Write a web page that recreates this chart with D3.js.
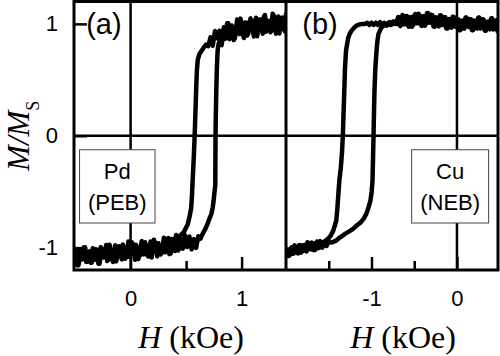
<!DOCTYPE html>
<html>
<head>
<meta charset="utf-8">
<script src="https://cdn.jsdelivr.net/npm/d3@7"></script>
<style>
  body { margin: 0; background: #fff; }
  svg { display: block; }
</style>
</head>
<body>
<div id="chart"></div>
<script>
// Hysteresis loops, M/Ms vs H (kOe). (a) Pd, positive exchange bias; (b) Cu, negative exchange bias

// panel (a) - descending branch (from +saturation)
const aDown = [
  [1.40, 1.085], [1.38, 0.95], [1.36, 1.055], [1.34, 0.915], [1.32, 1.035], [1.30, 0.955], [1.28, 1.09], [1.26, 0.925],
  [1.24, 1.01], [1.22, 0.93], [1.20, 1.065], [1.18, 0.955], [1.16, 1.04], [1.14, 0.89], [1.12, 1.023], [1.10, 0.961],
  [1.08, 1.049], [1.06, 0.912], [1.04, 1.013], [1.02, 0.874], [1.00, 0.99], [0.98, 0.91], [0.96, 1.04], [0.94, 0.871],
  [0.92, 0.957], [0.90, 0.88], [0.88, 1.005], [0.86, 0.89], [0.84, 0.97], [0.82, 0.81], [0.80, 0.938], [0.78, 0.87],
  [0.76, 0.935], [0.74, 0.805], [0.72, 0.88], [0.70, 0.80], [0.68, 0.815], [0.66, 0.79], [0.64, 0.76], [0.62, 0.73],
  [0.605, 0.68], [0.597, 0.58], [0.592, 0.45], [0.587, 0.30], [0.582, 0.15], [0.577, 0.0], [0.571, -0.15], [0.565, -0.28],
  [0.559, -0.40], [0.552, -0.55], [0.545, -0.65], [0.532, -0.72], [0.515, -0.79], [0.50, -0.82], [0.48, -0.86], [0.46, -0.88],
  [0.44, -0.90], [0.42, -0.91], [0.40, -1.03], [0.38, -0.944], [0.36, -1.053], [0.34, -0.915], [0.32, -1.024], [0.30, -0.912],
  [0.28, -1.047], [0.26, -0.987], [0.24, -1.078], [0.22, -0.953], [0.20, -1.036], [0.18, -0.945], [0.16, -1.08], [0.14, -0.976],
  [0.12, -1.059], [0.10, -0.942], [0.08, -1.077], [0.06, -0.999], [0.04, -1.108], [0.02, -0.965], [0.00, -1.056], [-0.02, -0.945],
  [-0.04, -1.087], [-0.06, -0.996], [-0.08, -1.105], [-0.10, -0.988], [-0.12, -1.084], [-0.14, -0.98], [-0.16, -1.128], [-0.18, -1.024],
  [-0.20, -1.107], [-0.22, -0.977], [-0.24, -1.086], [-0.26, -1.008], [-0.28, -1.143], [-0.30, -1.026], [-0.32, -1.109], [-0.34, -1.005],
  [-0.36, -1.135], [-0.38, -1.049], [-0.40, -1.127], [-0.42, -0.997], [-0.44, -1.106], [-0.46, -1.028], [-0.48, -1.158], [-0.50, -1.041],
  [-0.52, -1.119]
];

// panel (a) - ascending branch (from -saturation)
const aUp = [
  [-0.51, -1.119], [-0.49, -1.015], [-0.47, -1.158], [-0.45, -1.054], [-0.43, -1.09], [-0.41, -0.997], [-0.39, -1.127], [-0.37, -1.033],
  [-0.35, -1.135], [-0.33, -1.057], [-0.31, -1.015], [-0.29, -1.143], [-0.27, -0.997], [-0.25, -1.086], [-0.23, -1.018], [-0.21, -1.12],
  [-0.19, -0.974], [-0.17, -1.089], [-0.15, -1.021], [-0.13, -1.123], [-0.11, -0.99], [-0.09, -1.053], [-0.07, -0.972], [-0.05, -1.10],
  [-0.03, -0.996], [-0.01, -1.084], [0.01, -0.952], [0.03, -1.056], [0.05, -0.975], [0.07, -1.103], [0.09, -0.996], [0.11, -1.059],
  [0.13, -0.952], [0.15, -1.067], [0.17, -0.999], [0.19, -1.088], [0.21, -0.929], [0.23, -1.042], [0.25, -0.961], [0.27, -1.062],
  [0.29, -0.967], [0.31, -1.042], [0.33, -0.92], [0.35, -1.058], [0.37, -0.923], [0.39, -0.996], [0.41, -0.887], [0.43, -1.025],
  [0.45, -0.921], [0.47, -1.01], [0.49, -0.89], [0.51, -0.994], [0.53, -0.901], [0.55, -1.015], [0.57, -0.924], [0.59, -1.002],
  [0.61, -0.898], [0.63, -0.92], [0.65, -0.875], [0.67, -0.84], [0.694, -0.786], [0.71, -0.74], [0.727, -0.70], [0.74, -0.64],
  [0.748, -0.58], [0.756, -0.50], [0.763, -0.44], [0.764, -0.2], [0.765, 0.0], [0.768, 0.2], [0.772, 0.40], [0.777, 0.60],
  [0.782, 0.72], [0.786, 0.78], [0.795, 0.83], [0.81, 0.86], [0.83, 0.88], [0.85, 0.865], [0.87, 1.005], [0.89, 0.862],
  [0.91, 0.985], [0.93, 0.855], [0.95, 0.978], [0.97, 0.922], [0.99, 1.047], [1.01, 0.902], [1.03, 1.011], [1.05, 0.895],
  [1.07, 0.988], [1.09, 1.035], [1.11, 0.887], [1.13, 1.054], [1.15, 0.95], [1.17, 1.028], [1.19, 0.912], [1.21, 1.08],
  [1.23, 0.948], [1.25, 1.027], [1.27, 0.94], [1.29, 1.075], [1.31, 0.912], [1.33, 1.065], [1.35, 0.977], [1.37, 1.055],
  [1.39, 0.935], [1.41, 1.04]
];

// panel (b) - descending branch
const bDown = [
  [0.50, 1.032], [0.475, 0.934], [0.45, 1.018], [0.425, 0.95], [0.40, 1.049], [0.375, 0.966], [0.35, 1.009], [0.325, 0.94],
  [0.30, 1.04], [0.275, 0.958], [0.25, 1.056], [0.225, 0.972], [0.20, 1.028], [0.175, 0.944], [0.15, 1.042], [0.125, 0.986],
  [0.10, 1.056], [0.075, 0.958], [0.05, 1.028], [0.025, 0.944], [0.0, 1.045], [-0.025, 0.978], [-0.05, 1.065], [-0.075, 0.97],
  [-0.10, 1.043], [-0.125, 0.961], [-0.15, 1.06], [-0.175, 0.991], [-0.20, 1.076], [-0.225, 0.983], [-0.25, 1.058], [-0.275, 0.979],
  [-0.30, 1.082], [-0.325, 1.012], [-0.35, 1.096], [-0.375, 0.984], [-0.40, 1.066], [-0.425, 0.994], [-0.45, 1.091], [-0.475, 1.005],
  [-0.50, 1.074], [-0.525, 0.975], [-0.55, 1.058], [-0.575, 0.986], [-0.60, 1.068], [-0.625, 0.996], [-0.65, 1.05], [-0.675, 0.992],
  [-0.70, 1.03], [-0.725, 1.0], [-0.75, 1.02], [-0.775, 0.99], [-0.80, 1.01], [-0.825, 0.985], [-0.85, 1.01], [-0.875, 0.99],
  [-0.90, 1.015], [-0.925, 0.99], [-0.95, 1.01], [-0.975, 0.99], [-1.0, 1.01], [-1.025, 0.99], [-1.05, 1.01], [-1.075, 1.0],
  [-1.106, 1.0], [-1.14, 0.995], [-1.18, 0.982], [-1.21, 0.96], [-1.235, 0.9375], [-1.255, 0.91], [-1.271, 0.878], [-1.285, 0.82],
  [-1.298, 0.759], [-1.31, 0.60], [-1.318, 0.40], [-1.327, 0.20], [-1.335, 0.0], [-1.345, -0.15], [-1.358, -0.28], [-1.376, -0.40],
  [-1.39, -0.55], [-1.40, -0.66], [-1.412, -0.76], [-1.447, -0.848], [-1.475, -0.89], [-1.506, -0.92], [-1.55, -0.945], [-1.588, -0.964],
  [-1.61, -1.0], [-1.635, -0.945], [-1.66, -1.02], [-1.685, -0.963], [-1.71, -1.016], [-1.735, -0.96], [-1.76, -1.034], [-1.785, -0.978],
  [-1.81, -1.032], [-1.835, -0.977], [-1.86, -1.052], [-1.885, -0.997], [-1.91, -1.052], [-1.935, -0.997], [-1.96, -1.072], [-1.985, -1.017],
  [-2.01, -1.07]
];

// panel (b) - ascending branch
const bUp = [
  [-2.0, -1.01], [-1.975, -1.075], [-1.95, -1.01], [-1.925, -1.055], [-1.90, -0.98], [-1.875, -1.035], [-1.85, -0.98], [-1.825, -1.045],
  [-1.80, -0.98], [-1.775, -1.026], [-1.75, -0.952], [-1.725, -1.008], [-1.70, -0.955], [-1.675, -1.022], [-1.65, -0.958], [-1.625, -1.005],
  [-1.60, -0.942], [-1.575, -1.0], [-1.55, -0.948], [-1.525, -0.985], [-1.50, -0.94], [-1.475, -0.955], [-1.45, -0.95], [-1.42, -0.94],
  [-1.388, -0.92], [-1.35, -0.90], [-1.306, -0.875], [-1.26, -0.855], [-1.212, -0.83], [-1.17, -0.80], [-1.129, -0.777], [-1.09, -0.74],
  [-1.059, -0.696], [-1.035, -0.64], [-1.012, -0.58], [-0.998, -0.50], [-0.988, -0.40], [-0.982, -0.2], [-0.976, 0.0], [-0.971, 0.2],
  [-0.965, 0.40], [-0.955, 0.60], [-0.941, 0.759], [-0.93, 0.85], [-0.918, 0.91], [-0.886, 0.964], [-0.85, 0.99], [-0.824, 1.0],
  [-0.812, 0.99], [-0.787, 1.015], [-0.762, 0.995], [-0.737, 1.02], [-0.712, 1.0], [-0.687, 1.062], [-0.662, 0.98], [-0.637, 1.08],
  [-0.612, 0.998], [-0.587, 1.07], [-0.562, 0.974], [-0.537, 1.059], [-0.512, 0.99], [-0.487, 1.089], [-0.462, 1.007], [-0.437, 1.078],
  [-0.412, 0.982], [-0.387, 1.068], [-0.362, 0.998], [-0.337, 1.096], [-0.312, 1.012], [-0.287, 1.077], [-0.262, 0.974], [-0.237, 1.053],
  [-0.212, 0.978], [-0.187, 1.075], [-0.162, 0.99], [-0.137, 1.059], [-0.112, 0.959], [-0.087, 1.04], [-0.062, 0.967], [-0.037, 1.062],
  [-0.012, 0.975], [0.012, 1.042], [0.037, 0.944], [0.062, 1.028], [0.087, 0.958], [0.112, 1.056], [0.137, 0.972], [0.162, 1.042],
  [0.187, 0.944], [0.212, 1.028], [0.237, 0.958], [0.262, 1.056], [0.287, 0.97], [0.312, 1.038], [0.337, 0.939], [0.362, 1.022],
  [0.387, 0.951], [0.412, 1.048], [0.437, 0.962], [0.462, 1.032], [0.487, 0.934], [0.51, 1.0]
];

const mTicks = [-1, 0, 1];
const aMajor = [0, 1], aMinor = [0.5];
const bMajor = [-1, 0], bMinor = [-1.5, -0.5];
const aDomain = [-0.51, 1.40];
const bDomain = [-2.0, 0.48];

const width = 500, height = 356;
const sans = '"Liberation Sans", Arial, sans-serif';
const serif = '"Liberation Serif", "Times New Roman", serif';

const svg = d3.select('#chart').append('svg')
  .attr('width', width)
  .attr('height', height);

const y = d3.scaleLinear().domain([-1.2, 1.2]).range([270, 1.5]);

const panels = [
  { id: 'a', tag: '(a)', x: d3.scaleLinear().domain(aDomain).range([74, 286]), major: aMajor, minor: aMinor,
    loops: [aDown, aUp], box: ['Pd', '(PEB)'], boxH: [-0.46, 0.22], tagH: -0.40 },
  { id: 'b', tag: '(b)', x: d3.scaleLinear().domain(bDomain).range([286, 498]), major: bMajor, minor: bMinor,
    loops: [bDown, bUp], box: ['Cu', '(NEB)'], boxH: [-0.53, 0.37], tagH: -1.81 }
];

const line = d3.line();

panels.forEach(p => {
  const x = p.x;
  const [x0, x1] = x.range();
  const clipId = 'clip-' + p.id;
  svg.append('clipPath').attr('id', clipId)
    .append('rect').attr('x', x0).attr('y', y(1.2)).attr('width', x1 - x0).attr('height', y(-1.2) - y(1.2));

  // zero lines
  svg.append('line')
    .attr('x1', x(0)).attr('x2', x(0)).attr('y1', y(1.2)).attr('y2', y(-1.2))
    .attr('stroke', '#000').attr('stroke-width', 2.5);
  svg.append('line')
    .attr('x1', x0).attr('x2', x1).attr('y1', y(0)).attr('y2', y(0))
    .attr('stroke', '#000').attr('stroke-width', 2.5);

  // bottom ticks (inward)
  const gx = svg.append('g')
    .attr('transform', `translate(0,${y(-1.2)})`)
    .call(d3.axisBottom(x).tickValues(p.major).tickSize(-13).tickPadding(20).tickFormat(d3.format('d')));
  gx.select('.domain').remove();
  gx.selectAll('line').attr('stroke-width', 2.5);
  gx.selectAll('text').attr('font-family', sans).attr('font-size', 22).attr('fill', '#000')
    .text(d => d < 0 ? '-' + Math.abs(d) : d);
  const gm = svg.append('g')
    .attr('transform', `translate(0,${y(-1.2)})`)
    .call(d3.axisBottom(x).tickValues(p.minor).tickSize(-9).tickFormat(''));
  gm.select('.domain').remove();
  gm.selectAll('line').attr('stroke-width', 2.5);

  // data
  const gd = svg.append('g').attr('clip-path', `url(#${clipId})`);
  p.loops.forEach(branch => {
    gd.append('path')
      .attr('d', line(branch.map(d => [x(d[0]), y(d[1])])))
      .attr('fill', 'none')
      .attr('stroke', '#000')
      .attr('stroke-width', 4.5)
      .attr('stroke-linejoin', 'round')
      .attr('stroke-linecap', 'round');
  });

  // sample box
  const bx0 = x(p.boxH[0]), bx1 = x(p.boxH[1]);
  svg.append('rect')
    .attr('x', bx0).attr('y', y(-0.125)).attr('width', bx1 - bx0).attr('height', y(-0.78) - y(-0.125))
    .attr('fill', '#fff').attr('stroke', '#444').attr('stroke-width', 1);
  svg.append('text').attr('x', (bx0 + bx1) / 2).attr('y', y(-0.39))
    .attr('text-anchor', 'middle').attr('font-family', sans).attr('font-size', 22).text(p.box[0]);
  svg.append('text').attr('x', (bx0 + bx1) / 2).attr('y', y(-0.66))
    .attr('text-anchor', 'middle').attr('font-family', sans).attr('font-size', 22).text(p.box[1]);

  // panel tag
  svg.append('text').attr('x', x(p.tagH)).attr('y', y(1)).attr('dy', '0.36em')
    .attr('font-family', sans).attr('font-size', 29).text(p.tag);

  // x label
  const xl = svg.append('text')
    .attr('x', (x0 + x1) / 2 + 11).attr('y', 348)
    .attr('text-anchor', 'middle').attr('font-family', serif).attr('font-size', 32);
  xl.append('tspan').attr('font-style', 'italic').text('H');
  xl.append('tspan').text(' (kOe)');
});

// left axis ticks
const gy = svg.append('g')
  .attr('transform', 'translate(74,0)')
  .call(d3.axisLeft(y).tickValues(mTicks).tickSize(-13).tickPadding(16).tickFormat(d3.format('d')));
gy.select('.domain').remove();
gy.selectAll('line').attr('stroke-width', 2.5);
gy.selectAll('text').attr('font-family', sans).attr('font-size', 22).attr('fill', '#000')
  .text(d => d < 0 ? '-' + Math.abs(d) : d);

// frame
svg.append('rect')
  .attr('x', 74).attr('y', y(1.2)).attr('width', 424).attr('height', y(-1.2) - y(1.2))
  .attr('fill', 'none').attr('stroke', '#000').attr('stroke-width', 3);
svg.append('line')
  .attr('x1', 286).attr('x2', 286).attr('y1', y(1.2)).attr('y2', y(-1.2))
  .attr('stroke', '#000').attr('stroke-width', 3);

// y label
const yl = svg.append('text')
  .attr('transform', `translate(29,${y(0)}) rotate(-90)`)
  .attr('text-anchor', 'middle').attr('font-family', serif).attr('font-size', 31);
yl.append('tspan').attr('font-style', 'italic').text('M/M');
yl.append('tspan').attr('font-size', 18).attr('dy', 10).text('S');
</script>
</body>
</html>
